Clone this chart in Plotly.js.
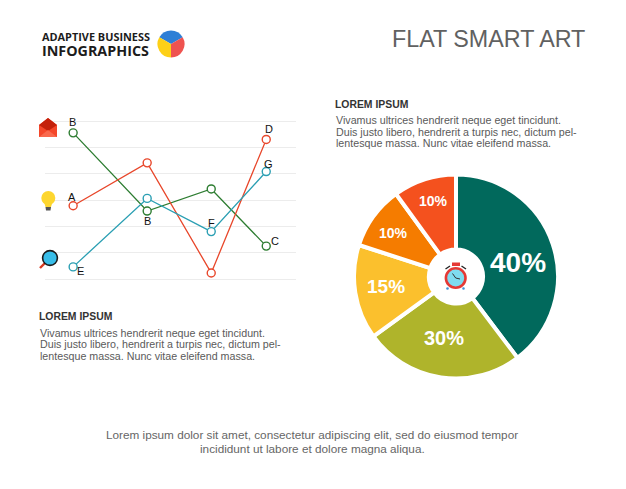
<!DOCTYPE html>
<html><head><meta charset="utf-8">
<script src="https://cdn.plot.ly/plotly-3.0.1.min.js"></script>
<style>html,body{margin:0;padding:0;background:#fff}#c{width:626px;height:489px}</style>
</head><body><div id="c"></div>
<script>
const W=626,H=489;
const lineX=[1,2,2.865,3.608];
const greenVals=[5.55,2.58,3.42,1.25];
const redVals=[2.78,4.41,0.23,5.30];
const blueVals=[0.46,3.06,1.80,4.08];
const pieValues=[39.7,25.3,15,10,10];
const pieLabels=['40%','30%','15%','10%','10%'];
const pieColors=['#01695c','#afb42b','#fbc02d','#f57c00','#f4511e'];
const logoValues=[1,1,1];
const logoColors=['#2e7fd6','#ef5350','#fdd017'];
const paraLines=['Vivamus ultrices hendrerit neque eget tincidunt.','Duis justo libero, hendrerit a turpis nec, dictum pel-','lentesque massa. Nunc vitae eleifend massa.'];
const footLines=['Lorem ipsum dolor sit amet, consectetur adipiscing elit, sed do eiusmod tempor','incididunt ut labore et dolore magna aliqua.'];

const px=x=>x/W, py=y=>1-y/H;
const SANS='"Liberation Sans",Arial,sans-serif';
function txt(x,y,s,size,color,anchor,family){return {xref:'paper',yref:'paper',x:px(x),y:py(y),text:s,showarrow:false,xanchor:anchor||'left',yanchor:'middle',borderpad:0,font:{size:size,color:color,family:family||SANS}};}
function path(pts,fill,lc,lw){return {type:'path',xref:'paper',yref:'paper',path:'M'+pts.map(p=>px(p[0])+','+py(p[1])).join('L')+'Z',fillcolor:fill,line:{color:lc||fill,width:lw===undefined?0:lw}};}
function seg(a,b,c,w){return {type:'line',xref:'paper',yref:'paper',x0:px(a[0]),y0:py(a[1]),x1:px(b[0]),y1:py(b[1]),line:{color:c,width:w}};}
function circ(cx,cy,r,fill,lc,lw){return {type:'circle',xref:'paper',yref:'paper',x0:px(cx-r),x1:px(cx+r),y0:py(cy-r),y1:py(cy+r),fillcolor:fill,line:{color:lc||fill,width:lw||0}};}

function lineTrace(vals,color){return {type:'scatter',mode:'lines+markers',x:lineX,y:vals,cliponaxis:false,
 line:{color:color,width:1.3},marker:{size:8,color:'#fff',line:{color:color,width:1.4}},hoverinfo:'skip',showlegend:false};}
function letter(s,vals,i,dx,dy){return {xref:'x',yref:'y',x:lineX[i],y:vals[i],text:s,showarrow:false,xanchor:'center',yanchor:'middle',xshift:dx,yshift:dy,borderpad:0,font:{size:11,color:'#111',family:SANS}};}

const data=[
 lineTrace(greenVals,'#2e7d32'),
 lineTrace(redVals,'#e8472b'),
 lineTrace(blueVals,'#2b9fb3'),
 {type:'pie',values:pieValues,textinfo:'none',sort:false,direction:'clockwise',rotation:0,hole:0.265,
  marker:{colors:pieColors,line:{color:'#fff',width:4}},
  domain:{x:[px(456-102),px(456+102)],y:[py(276.5+102),py(276.5-102)]},hoverinfo:'skip',showlegend:false},
 {type:'pie',values:logoValues,textinfo:'none',sort:false,direction:'clockwise',rotation:-60,
  marker:{colors:logoColors,line:{width:0}},
  domain:{x:[px(171-13.5),px(171+13.5)],y:[py(44+13.5),py(44-13.5)]},hoverinfo:'skip',showlegend:false}
];

const shapes=[
 path([[39,125],[48,118],[57,125],[57,137],[39,137]],'#f4472a'),
 path([[39,125],[48,118],[57,125],[48,131]],'#c4210b'),
 path([[39,137],[48,130],[57,137]],'#f9694d'),
 circ(48.3,198,7,'#fdd62f'),
 path([[44,202],[52.5,202],[51,207],[45.5,207]],'#fdd62f'),
 path([[45.5,207],[51,207],[50.5,210.5],[46,210.5]],'#555555'),
 seg([40,268],[45,263],'#d8391f',2.4),
 circ(50,258,7.4,'#38bde8','#1b1b1b',1.6),
 seg([445.5,269],[450,266],'#222',1.4),
 seg([466,269],[461.5,266],'#222',1.4),
 path([[452,262.5],[460,262.5],[460,266],[452,266]],'#e53935'),
 circ(447.5,288.5,1.3,'#3f8fd6'),
 circ(463.5,288.5,1.3,'#3f8fd6'),
 circ(455.7,278,9.8,'#7fdcf0','#e53935',2.6),
 seg([455.7,278],[452.5,273.5],'#333',1),
 seg([455.7,278],[460,279],'#333',1)
];

const ann=[
 txt(41,37,'<b>ADAPTIVE BUSINESS</b>',10.9,'#1c1c1c','left','"Open Sans",sans-serif'),
 txt(41,50.5,'<b>INFOGRAPHICS</b>',14.3,'#1c1c1c','left','"Open Sans",sans-serif'),
 txt(585.5,39,'FLAT SMART ART',23.3,'#616161','right'),
 txt(334,104.5,'<b>LOREM IPSUM</b>',10.4,'#333'),
 txt(38,316.5,'<b>LOREM IPSUM</b>',10.4,'#333'),
 letter('B',greenVals,0,-1,11),
 letter('B',greenVals,1,0,-10),
 letter('C',greenVals,3,9,5),
 letter('A',redVals,0,-1,9),
 letter('D',redVals,3,3,10),
 letter('E',blueVals,0,7,-4),
 letter('F',blueVals,2,0,9),
 letter('G',blueVals,3,2,8),
 txt(517.5,262,'<b>'+pieLabels[0]+'</b>',28,'#fff','center'),
 txt(444,338,'<b>'+pieLabels[1]+'</b>',20,'#fff','center'),
 txt(385.5,286,'<b>'+pieLabels[2]+'</b>',19,'#fff','center'),
 txt(393,233,'<b>'+pieLabels[3]+'</b>',14,'#fff','center'),
 txt(433,201,'<b>'+pieLabels[4]+'</b>',14,'#fff','center')
];
paraLines.forEach((l,i)=>{ann.push(txt(335,120+i*11.5,l,10.7,'#5a5a5a'));ann.push(txt(39,332.5+i*11.5,l,10.7,'#5a5a5a'));});
footLines.forEach((l,i)=>ann.push(txt(312,434+i*14.5,l,11.75,'#666','center')));

const layout={width:W,height:H,margin:{l:0,r:0,t:0,b:0},paper_bgcolor:'#fff',plot_bgcolor:'#fff',showlegend:false,
 xaxis:{domain:[px(45),px(296)],range:[0.62,4.01],showgrid:false,zeroline:false,showticklabels:false,ticks:'',showline:false,fixedrange:true},
 yaxis:{domain:[py(292.17),py(107.83)],range:[-0.5,6.5],dtick:1,tick0:0,showgrid:true,gridcolor:'#ececec',gridwidth:1,zeroline:false,showticklabels:false,ticks:'',showline:false,fixedrange:true},
 shapes:shapes,annotations:ann};
Plotly.newPlot('c',data,layout,{displayModeBar:false,staticPlot:true});
</script></body></html>
